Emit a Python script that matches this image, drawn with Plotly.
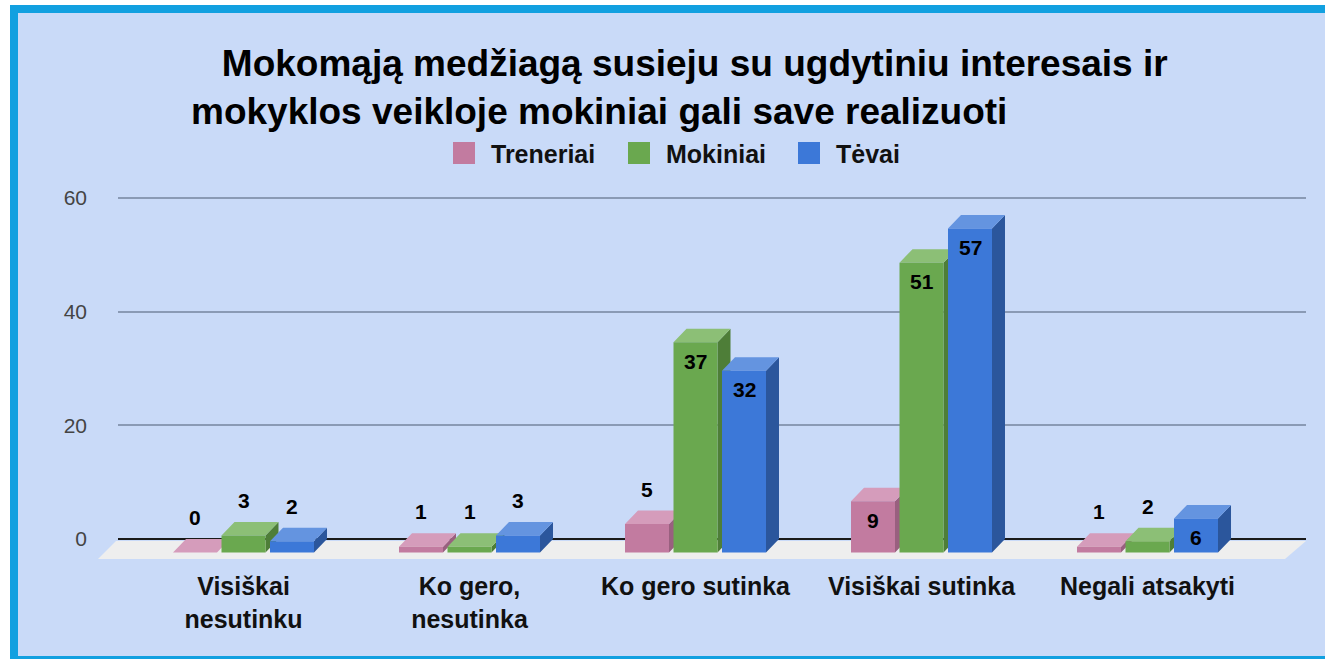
import plotly.graph_objects as go

# ---------------- data ----------------
categories = ["Visiškai<br>nesutinku", "Ko gero,<br>nesutinka", "Ko gero sutinka",
              "Visiškai sutinka", "Negali atsakyti"]
series_names = ["Treneriai", "Mokiniai", "Tėvai"]
treneriai = [0, 1, 5, 9, 1]
mokiniai = [3, 1, 37, 51, 2]
tevai = [2, 3, 32, 57, 6]
y_ticks = [0, 20, 40, 60]
title_line1 = "Mokomąją medžiagą susieju su ugdytiniu interesais ir"
title_line2 = "mokyklos veikloje mokiniai gali save realizuoti"

# ---------------- style / layout constants ----------------
W, H = 1325, 659
L, R, T, B = 118, 19, 190, 97
PW, PH = W - L - R, H - T - B
X_RANGE = [-0.5553, 4.7013]
Y_RANGE = [-4.047, 61.41]
PX_X = PW / (X_RANGE[1] - X_RANGE[0])   # pixels per x unit
PX_Y = PH / (Y_RANGE[1] - Y_RANGE[0])   # pixels per y unit

DEPTH_X = 13 / PX_X      # 3-D depth in data units
DEPTH_Y = 13.5 / PX_Y
BAR_W = 44 / PX_X
BAR_STEP = 48.5 / PX_X

front_cols = ["#C27BA0", "#6AA84F", "#3C78D8"]
top_cols = ["#D59CBB", "#8CBF76", "#6494E0"]
side_cols = ["#99607F", "#4E7E38", "#2B569C"]
BG = "#C9DAF8"
BORDER = "#12A0E0"
FONT = "Liberation Sans, Arial, sans-serif"
CAT_SIZE = 25
TITLE_SIZE = 37


def pxx(p):
    return (p - L) / PW


def pxy(p):
    return (H - B - p) / PH


fig = go.Figure()
all_series = [treneriai, mokiniai, tevai]

# top and side faces (drawn behind the fronts)
for s, vals in enumerate(all_series):
    tx, ty, sx, sy = [], [], [], []
    for i, v in enumerate(vals):
        xc = i + (s - 1) * BAR_STEP
        xl, xr = xc - BAR_W / 2, xc + BAR_W / 2
        base = -DEPTH_Y
        top = v - DEPTH_Y
        tx += [xl, xr, xr + DEPTH_X, xl + DEPTH_X, xl, None]
        ty += [top, top, top + DEPTH_Y, top + DEPTH_Y, top, None]
        if v > 0:
            sx += [xr, xr + DEPTH_X, xr + DEPTH_X, xr, xr, None]
            sy += [base, base + DEPTH_Y, top + DEPTH_Y, top, base, None]
    fig.add_trace(go.Scatter(x=sx, y=sy, fill="toself", fillcolor=side_cols[s],
                             mode="lines", line=dict(width=0, color=side_cols[s]),
                             hoverinfo="skip", showlegend=False, zorder=0))
    fig.add_trace(go.Scatter(x=tx, y=ty, fill="toself", fillcolor=top_cols[s],
                             mode="lines", line=dict(width=0, color=top_cols[s]),
                             hoverinfo="skip", showlegend=False, zorder=0))

# front faces
for s, vals in enumerate(all_series):
    xs = [i + (s - 1) * BAR_STEP for i in range(len(vals))]
    fig.add_trace(go.Bar(x=xs, y=vals, base=[-DEPTH_Y] * len(vals), width=BAR_W,
                         marker=dict(color=front_cols[s], line=dict(width=0)),
                         name=series_names[s], showlegend=False, zorder=1))

# data labels
annotations = []
for s, vals in enumerate(all_series):
    for i, v in enumerate(vals):
        xc = i + (s - 1) * BAR_STEP
        inside = v * PX_Y >= 32
        annotations.append(dict(
            x=xc, y=v - DEPTH_Y, xref="x", yref="y", text=str(v), showarrow=False,
            yanchor="middle", xanchor="center", yshift=-19 if inside else 35,
            font=dict(family=FONT, size=21, color="#000000", weight="bold")))

# title (one text block; first line indented like the original)
indent = "&nbsp;" * 3
annotations.append(dict(x=pxx(190), y=pxy(87), xref="paper", yref="paper", xanchor="left",
                        yanchor="middle", align="left", borderpad=0,
                        text=indent + title_line1 + "<br>" + title_line2, showarrow=False,
                        font=dict(family=FONT, size=TITLE_SIZE, color="#000000",
                                  weight="bold")))

# legend (manual)
shapes = []
legend_sq_x = [453, 628, 798]
for s, name in enumerate(series_names):
    x0 = legend_sq_x[s]
    shapes.append(dict(type="rect", xref="paper", yref="paper",
                       x0=pxx(x0), x1=pxx(x0 + 22), y0=pxy(164), y1=pxy(142),
                       fillcolor=front_cols[s], line=dict(width=0), layer="above"))
    annotations.append(dict(x=pxx(x0 + 37), y=pxy(154), xref="paper", yref="paper",
                            xanchor="left", yanchor="middle", borderpad=0, text=name,
                            showarrow=False,
                            font=dict(family=FONT, size=25, color="#111111", weight="bold")))

# frame and floor
shapes.insert(0, dict(type="rect", xref="paper", yref="paper",
                      x0=pxx(14), x1=pxx(1340), y0=pxy(9), y1=pxy(660),
                      fillcolor=BG, line=dict(color=BORDER, width=8), layer="below"))
shapes.insert(1, dict(type="path", xref="paper", yref="paper",
                      path=f"M {pxx(98)},{pxy(559)} L {pxx(116)},{pxy(541)} "
                           f"L {pxx(1306)},{pxy(541)} L {pxx(1285)},{pxy(559)} Z",
                      fillcolor="#EEEEEE", line=dict(width=0), layer="below"))

fig.update_layout(
    width=W, height=H,
    margin=dict(l=L, r=R, t=T, b=B, pad=0),
    paper_bgcolor="#FFFFFF", plot_bgcolor="rgba(0,0,0,0)",
    barmode="overlay", showlegend=False,
    shapes=shapes, annotations=annotations,
    xaxis=dict(range=X_RANGE, tickvals=list(range(len(categories))), ticktext=categories,
               showgrid=False, zeroline=False, showline=False, ticks="",
               tickfont=dict(family=FONT, size=CAT_SIZE, color="#111111", weight="bold"),
               ticklabelstandoff=7, fixedrange=True),
    yaxis=dict(range=Y_RANGE, tickvals=y_ticks, showgrid=True, gridcolor="#8A9AB5",
               gridwidth=1.5, zeroline=True, zerolinecolor="#1A1A1A", zerolinewidth=2,
               showline=False, ticks="", ticklabelstandoff=30,
               tickfont=dict(family=FONT, size=21, color="#444444"), fixedrange=True),
)

fig.write_html("out.html", config={"displayModeBar": False},
               post_script="document.body.style.margin='0';document.body.style.overflow='hidden';")
